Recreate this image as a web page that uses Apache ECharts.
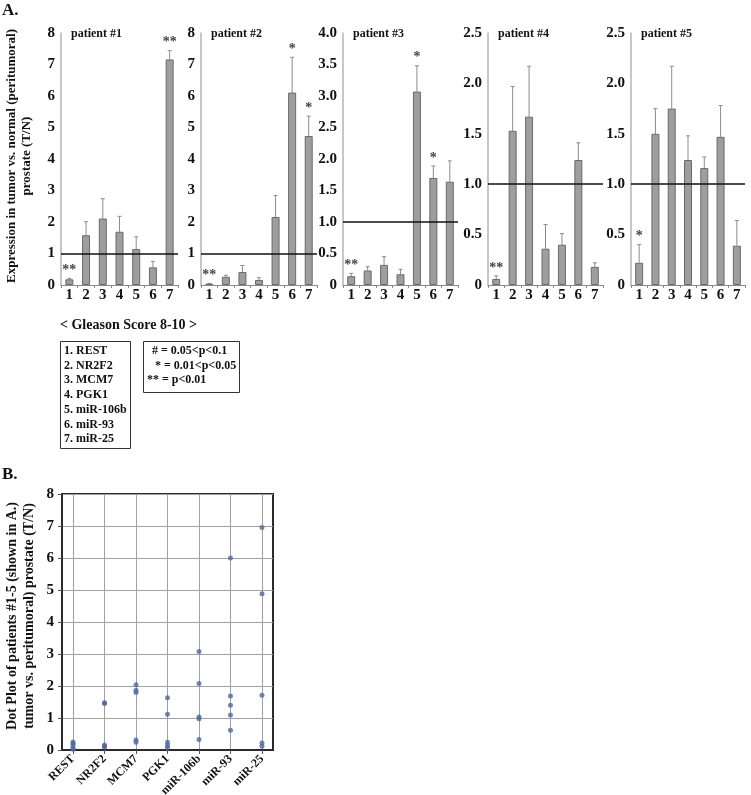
<!DOCTYPE html>
<html>
<head>
<meta charset="utf-8">
<script src="https://cdn.jsdelivr.net/npm/echarts@6/dist/echarts.min.js"></script>
<style>html,body{margin:0;padding:0;background:#fff}#c{width:751px;height:795px}</style>
</head>
<body>
<div id="c"></div>
<script>
// ---------- Panel A data ----------
const categories = ['1','2','3','4','5','6','7'];
const p1 = [0.18, 1.58, 2.11, 1.69, 1.14, 0.56, 7.16];
const p1Top = [0.21, 2.01, 2.74, 2.18, 1.53, 0.75, 7.44];
const p1Sig = ['**','','','','','','**'];
const p2 = [0.04, 0.26, 0.41, 0.16, 2.16, 6.11, 4.73];
const p2Top = [0.05, 0.31, 0.62, 0.23, 2.84, 7.23, 5.36];
const p2Sig = ['**','','','','','*','*'];
const p3 = [0.14, 0.23, 0.32, 0.17, 3.07, 1.70, 1.64];
const p3Top = [0.185, 0.29, 0.45, 0.25, 3.48, 1.89, 1.97];
const p3Sig = ['**','','','','*','*',''];
const p4 = [0.06, 1.53, 1.67, 0.36, 0.40, 1.24, 0.18];
const p4Top = [0.09, 1.97, 2.17, 0.60, 0.51, 1.41, 0.22];
const p4Sig = ['**','','','','','',''];
const p5 = [0.22, 1.50, 1.75, 1.24, 1.16, 1.47, 0.39];
const p5Top = [0.40, 1.75, 2.17, 1.48, 1.27, 1.78, 0.64];
const p5Sig = ['*','','','','','',''];
const patientTitles = ['patient #1','patient #2','patient #3','patient #4','patient #5'];
const yMax = [8, 8, 4, 2.5, 2.5];
const yStep = [1, 1, 0.5, 0.5, 0.5];

// ---------- Panel B data ----------
const genes = ['REST','NR2F2','MCM7','PGK1','miR-106b','miR-93','miR-25'];
const dotREST = [0.25, 0.20, 0.15, 0.06, 0.02];
const dotNR2F2 = [1.48, 1.45, 0.16, 0.12, 0.09];
const dotMCM7 = [2.04, 1.87, 1.80, 0.31, 0.24];
const dotPGK1 = [1.63, 1.12, 0.24, 0.15, 0.07];
const dotMiR106b = [3.08, 2.08, 1.03, 0.98, 0.33];
const dotMiR93 = [6.00, 1.69, 1.40, 1.09, 0.62];
const dotMiR25 = [6.95, 4.88, 1.71, 0.22, 0.12];
const bTicks = [0, 1, 2, 3, 4, 5, 6, 7, 8];

const serif = '"Liberation Serif", "Times New Roman", serif';
const patients = [p1, p2, p3, p4, p5];
const tops = [p1Top, p2Top, p3Top, p4Top, p5Top];
const sigs = [p1Sig, p2Sig, p3Sig, p4Sig, p5Sig];
const gridLefts = [61, 201, 343, 488, 631];
const gridWidths = [117, 116, 115, 115, 114];

const grids = [], xAxes = [], yAxes = [], series = [];
patients.forEach((vals, i) => {
  grids.push({left: gridLefts[i], top: 33, width: gridWidths[i], height: 252, outerBoundsMode: 'none'});
  xAxes.push({
    type: 'category', gridIndex: i, data: categories,
    axisLine: {lineStyle: {color: '#8a8a8a', width: 1}},
    axisTick: {show: true, length: 3, lineStyle: {color: '#8a8a8a'}},
    axisLabel: {color: '#111', fontFamily: serif, fontWeight: 'bold', fontSize: 15, margin: 3}
  });
  yAxes.push({
    type: 'value', gridIndex: i, min: 0, max: yMax[i], interval: yStep[i],
    splitLine: {show: false},
    axisLine: {show: true, lineStyle: {color: '#b5b5b5', width: 1.5}},
    axisTick: {show: false},
    axisLabel: {color: '#111', fontFamily: serif, fontWeight: 'bold', fontSize: 15, margin: 6,
      formatter: v => (v === 0 ? '0' : (yStep[i] < 1 ? v.toFixed(1) : String(v)))}
  });
  series.push({
    type: 'bar', xAxisIndex: i, yAxisIndex: i, data: vals, barWidth: 8,
    itemStyle: {color: '#9e9e9e', borderColor: '#6a6a6a', borderWidth: 1},
    markLine: {silent: true, symbol: 'none', label: {show: false},
      lineStyle: {color: '#111', width: 1.5, type: 'solid'}, data: [{yAxis: 1}]}
  });
  const top = tops[i], sig = sigs[i];
  series.push({
    type: 'custom', xAxisIndex: i, yAxisIndex: i,
    data: vals.map((v, k) => [k, v, top[k]]),
    renderItem: (params, api) => {
      const k = api.value(0);
      const b = api.coord([k, api.value(1)]);
      const t = api.coord([k, api.value(2)]);
      const children = [
        {type: 'line', shape: {x1: b[0], y1: b[1], x2: t[0], y2: t[1]}, style: {stroke: '#8c8c8c', lineWidth: 1}},
        {type: 'line', shape: {x1: t[0] - 2, y1: t[1], x2: t[0] + 2, y2: t[1]}, style: {stroke: '#8c8c8c', lineWidth: 1}}
      ];
      const s = sig[params.dataIndex];
      if (s) {
        children.push({type: 'text', style: {text: s, x: t[0], y: t[1] - 1, align: 'center', verticalAlign: 'bottom',
          fill: '#444', font: 'bold 14px ' + serif}});
      }
      return {type: 'group', children};
    }
  });
});

// Panel B grid
const bIdx = 5;
grids.push({left: 62, top: 494, width: 211, height: 256, show: true, borderColor: '#2a2a2a', borderWidth: 2, outerBoundsMode: 'none'});
xAxes.push({
  type: 'value', gridIndex: bIdx, min: -0.35, max: 6.35,
  axisLine: {show: true, onZero: false, lineStyle: {color: '#2a2a2a', width: 2}},
  axisTick: {show: true, length: 4, customValues: [0,1,2,3,4,5,6], lineStyle: {color: '#555'}},
  splitLine: {show: true, lineStyle: {color: '#a0a0a0', width: 1}},
  axisLabel: {customValues: [0,1,2,3,4,5,6], formatter: v => genes[Math.round(v)] || '', rotate: 45,
    color: '#111', fontFamily: serif, fontWeight: 'bold', fontSize: 12, margin: 7}
});
yAxes.push({
  type: 'value', gridIndex: bIdx, min: 0, max: 8, interval: 1,
  axisLine: {show: true, onZero: false, lineStyle: {color: '#2a2a2a', width: 2}},
  axisTick: {show: true, length: 4, lineStyle: {color: '#555'}},
  splitLine: {show: true, lineStyle: {color: '#a0a0a0', width: 1}},
  axisLabel: {color: '#111', fontFamily: serif, fontWeight: 'bold', fontSize: 15, margin: 8,
    formatter: v => String(bTicks[v] !== undefined ? bTicks[v] : v)}
});
const dotSets = [dotREST, dotNR2F2, dotMCM7, dotPGK1, dotMiR106b, dotMiR93, dotMiR25];
const dotData = [];
dotSets.forEach((arr, g) => arr.forEach(v => dotData.push([g, v])));
series.push({
  type: 'scatter', xAxisIndex: bIdx, yAxisIndex: bIdx, data: dotData,
  symbol: 'circle', symbolSize: 5, itemStyle: {color: '#4e6aa3'}
});

// ---------- texts ----------
const graphic = [];
graphic.push({type: 'text', left: 2, top: 2, style: {text: 'A.', fill: '#111', font: 'bold 17px ' + serif}});
graphic.push({type: 'text', left: 2, top: 466, style: {text: 'B.', fill: '#111', font: 'bold 17px ' + serif}});
patientTitles.forEach((t, i) => {
  graphic.push({type: 'text', x: gridLefts[i] + 10, y: 34, style: {text: t, fill: '#111', font: 'bold 12px ' + serif, verticalAlign: 'middle'}});
});
graphic.push({type: 'text', x: 12, y: 156, rotation: Math.PI / 2,
  style: {text: 'Expression in tumor vs. normal (peritumoral)', fill: '#111', font: 'bold 13px ' + serif, align: 'center', verticalAlign: 'middle'}});
graphic.push({type: 'text', x: 27, y: 156, rotation: Math.PI / 2,
  style: {text: 'prostate (T/N)', fill: '#111', font: 'bold 13px ' + serif, align: 'center', verticalAlign: 'middle'}});
graphic.push({type: 'text', x: 12, y: 616, rotation: Math.PI / 2,
  style: {text: 'Dot Plot of patients #1-5 (shown in A.)', fill: '#111', font: 'bold 14px ' + serif, align: 'center', verticalAlign: 'middle'}});
graphic.push({type: 'text', x: 29, y: 616, rotation: Math.PI / 2,
  style: {text: 'tumor vs. peritumoral) prostate (T/N)', fill: '#111', font: 'bold 14px ' + serif, align: 'center', verticalAlign: 'middle'}});
graphic.push({type: 'text', x: 60, y: 325, style: {text: '< Gleason Score 8-10 >', fill: '#111', font: 'bold 14px ' + serif, verticalAlign: 'middle'}});
graphic.push({type: 'rect', shape: {x: 60.5, y: 341.5, width: 70, height: 107}, style: {fill: 'none', stroke: '#333', lineWidth: 1}});
const geneList = ['1. REST','2. NR2F2','3. MCM7','4. PGK1','5. miR-106b','6. miR-93','7. miR-25'];
geneList.forEach((g, k) => {
  graphic.push({type: 'text', x: 64, y: 351 + k * 14.7, style: {text: g, fill: '#111', font: 'bold 12px ' + serif, verticalAlign: 'middle'}});
});
graphic.push({type: 'rect', shape: {x: 143.5, y: 341.5, width: 96, height: 51}, style: {fill: 'none', stroke: '#333', lineWidth: 1}});
const sigLegend = [['# = 0.05<p<0.1', 152], ['* = 0.01<p<0.05', 155], ['** = p<0.01', 147]];
sigLegend.forEach((s, k) => {
  graphic.push({type: 'text', x: s[1], y: 351 + k * 14.5, style: {text: s[0], fill: '#111', font: 'bold 12px ' + serif, verticalAlign: 'middle'}});
});

const chart = echarts.init(document.getElementById('c'), null, {renderer: 'canvas'});
chart.setOption({
  animation: false,
  backgroundColor: '#fff',
  grid: grids, xAxis: xAxes, yAxis: yAxes, series, graphic
});
</script>
</body>
</html>
